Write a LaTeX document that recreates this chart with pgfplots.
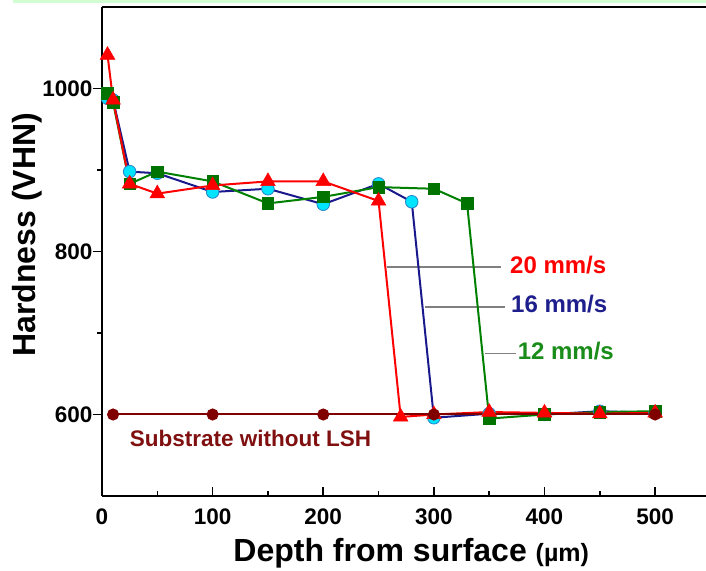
\documentclass[border=0pt]{standalone}
\usepackage{fontspec}
\setmainfont{Liberation Sans}
\usepackage{pgfplots}
\pgfplotsset{compat=1.18}
\definecolor{navyline}{RGB}{25,25,140}
\definecolor{cyanfill}{RGB}{0,228,255}
\definecolor{cyanedge}{RGB}{40,130,200}
\definecolor{grline}{RGB}{0,128,0}
\definecolor{grsq}{RGB}{0,115,0}
\definecolor{brownpt}{RGB}{128,0,0}
\definecolor{browntxt}{RGB}{128,16,16}
\definecolor{navytxt}{RGB}{30,30,140}
\definecolor{greentxt}{RGB}{25,140,25}
\definecolor{bandgreen}{RGB}{210,255,210}
\begin{document}
\begin{tikzpicture}
\begin{axis}[
  scale only axis, width=604pt, height=489pt,
  xmin=0, xmax=546, ymin=500, ymax=1100,
  axis x line*=box, axis y line*=left,
  axis line style={line width=2.2pt, black},
  xtick={0,100,200,300,400,500}, minor xtick={50,150,250,350,450},
  ytick={600,800,1000}, minor ytick={700,900},
  xtick pos=left, ytick pos=left,
  xtick align=inside, ytick align=outside,
  major tick length=9pt, minor tick length=5pt,
  tick style={line width=1.6pt, black},
  /pgf/number format/assume math mode=true,
  /pgf/number format/1000 sep={},
  tick label style={font=\fontsize{22.5}{22.5}\selectfont\bfseries},
  x tick label style={yshift=-9pt},
  y tick label style={xshift=3pt},
  xlabel={Depth from surface {\fontsize{25}{25}\selectfont(µm)}},
  ylabel={Hardness (VHN)},
  label style={font=\fontsize{32}{32}\selectfont\bfseries},
  xlabel style={at={(axis description cs:0.512,0)}, anchor=center, yshift=-57pt},
  ylabel style={at={(axis description cs:-0.124,0.534)}, anchor=center},
  clip=false,
]
\coordinate (SW) at (rel axis cs:0,0);
\coordinate (NE) at (rel axis cs:1,1);
\coordinate (TL) at (rel axis cs:0,1);
% annotation leader lines
\addplot[color=gray, line width=1.3pt, forget plot] coordinates {(257.5,781) (360.4,781)};
\addplot[color=gray, line width=1.3pt, forget plot] coordinates {(291.9,732) (364.3,732)};
\addplot[color=gray, line width=1.3pt, forget plot] coordinates {(346.2,674.6) (374.2,674.6)};
% 16 mm/s
\addplot[color=navyline, line width=2pt, mark=*, mark size=6.3pt,
  mark options={fill=cyanfill, draw=cyanedge, line width=0.8pt}] coordinates {
  (5,988) (10,986) (25,898) (50,896) (100,873) (150,877) (200,858) (250,883)
  (280,861) (300,596) (350,601) (400,600) (450,604) (500,602)};
% 12 mm/s
\addplot[color=grline, line width=2pt, mark=square*, mark size=5.8pt,
  mark options={fill=grsq, draw=grsq, line width=0.5pt}] coordinates {
  (5,994) (10,983) (25,883) (50,898) (100,886) (150,859) (200,867) (250,879)
  (300,877) (330,859) (350,595) (400,600) (450,603) (500,604)};
% 20 mm/s
\addplot[color=red, line width=2pt, mark=triangle*, mark size=8.5pt,
  mark options={fill=red, draw=red, line width=0.5pt}] coordinates {
  (5,1041) (10,986) (25,883) (50,871) (100,881) (150,886) (200,886) (250,862)
  (270,597) (300,600) (350,603) (400,602) (450,601) (500,602)};
% substrate
\addplot[color=brownpt, line width=2pt, mark=*, mark size=5pt,
  mark options={fill=brownpt, draw=brownpt}] coordinates {
  (10,600) (100,600) (200,600) (300,600) (500,600)};
\node[anchor=west, inner sep=0pt, text=red, font=\fontsize{24}{24}\selectfont\bfseries] at (axis cs:368.8,783.5) {20 mm/s};
\node[anchor=west, inner sep=0pt, text=navytxt, font=\fontsize{24}{24}\selectfont\bfseries] at (axis cs:369.7,735.8) {16 mm/s};
\node[anchor=west, inner sep=0pt, text=greentxt, font=\fontsize{24}{24}\selectfont\bfseries] at (axis cs:375.7,678.3) {12 mm/s};
\node[anchor=west, inner sep=0pt, text=browntxt, font=\fontsize{22.5}{22.5}\selectfont\bfseries] at (axis cs:25,570.3) {Substrate without LSH};
\end{axis}
\fill[bandgreen] ([xshift=-89pt,yshift=3.5pt]TL) rectangle ([yshift=7pt]NE);
\pgfresetboundingbox
\path ([xshift=-102pt,yshift=-75pt]SW) rectangle ([yshift=7pt]NE);
\end{tikzpicture}
\end{document}
